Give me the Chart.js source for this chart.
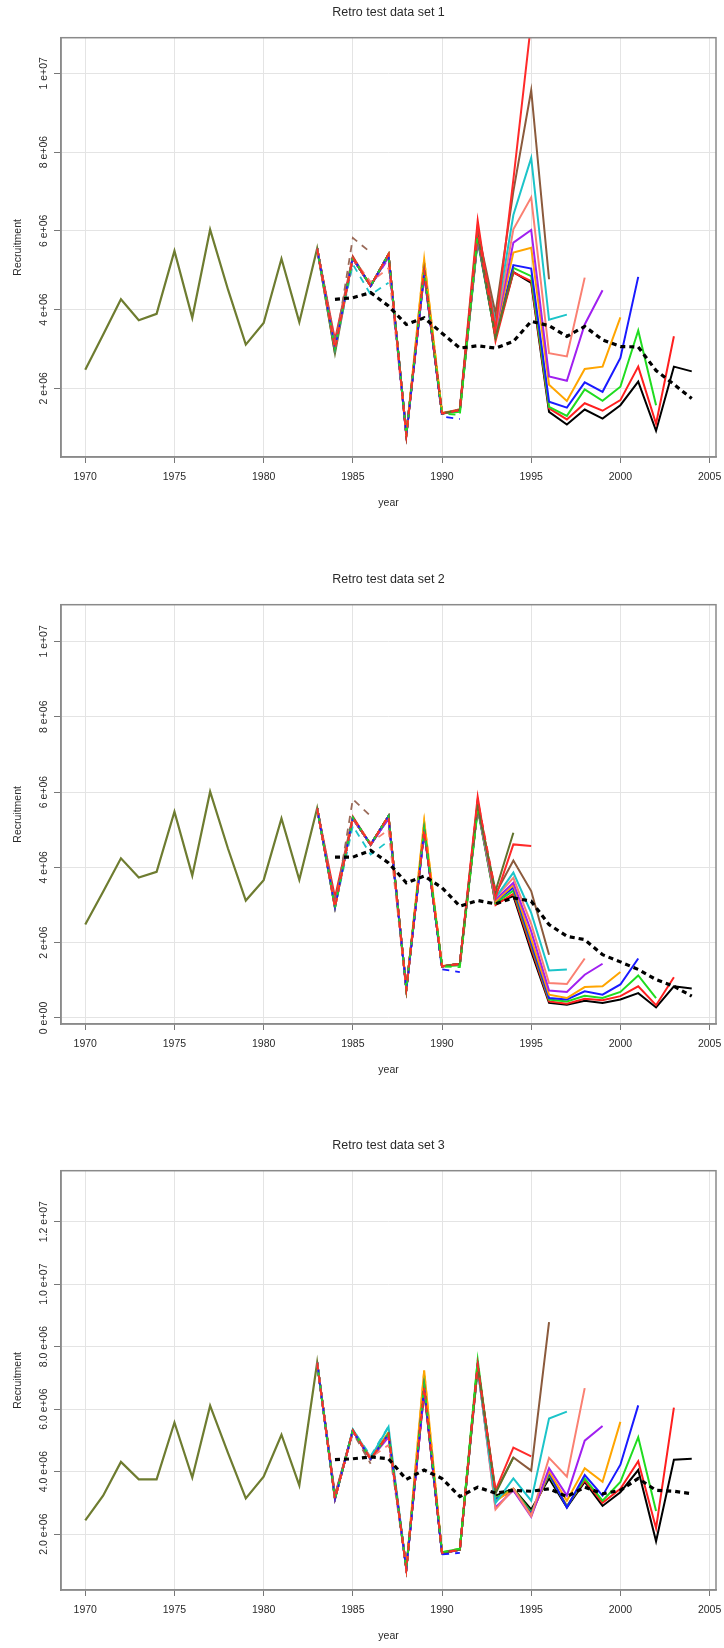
<!DOCTYPE html>
<html><head><meta charset="utf-8">
<script src="https://cdn.jsdelivr.net/npm/chart.js@4.4.1/dist/chart.umd.min.js"></script>
<style>
html,body{margin:0;padding:0;background:#fff;}
body{width:724px;height:1648px;position:relative;overflow:hidden;}
.panel{position:absolute;left:0;width:724px;}
canvas{display:block;}
</style></head><body>
<div class="panel" style="top:0;height:566px"><canvas id="c1" width="724" height="566"></canvas></div>
<div class="panel" style="top:567px;height:566px"><canvas id="c2" width="724" height="566"></canvas></div>
<div class="panel" style="top:1133px;height:515px"><canvas id="c3" width="724" height="515"></canvas></div>
<script>
// ---------- shared axis data ----------
const xTickValues = [1970, 1975, 1980, 1985, 1990, 1995, 2000, 2005];
const xTickLabels = ["1970", "1975", "1980", "1985", "1990", "1995", "2000", "2005"];
const historyStart = 1970;   // first year of the shared history line
const runStart = 1983;       // first year of every retrospective run array
const smoothStart = 1984;    // first year of the dotted line
const xLabel = "year";
const yLabel = "Recruitment";

// ---------- Panel 1 (values in millions) ----------
const p1Title = "Retro test data set 1";
const p1YTicks = [2, 4, 6, 8, 10];
const p1YLabels = ["2 e+06", "4 e+06", "6 e+06", "8 e+06", "1 e+07"];
const p1History = [2.47, 3.36, 4.26, 3.73, 3.89, 5.49, 3.79, 6.03, 4.51, 3.11, 3.66, 5.29, 3.68, 5.55, 2.89];
const p1Smooth = [4.26, 4.30, 4.43, 4.09, 3.62, 3.79, 3.40, 3.02, 3.08, 3.02, 3.19, 3.70, 3.59, 3.32, 3.57, 3.23, 3.06, 3.05, 2.45, 2.10, 1.74];
const p1Run2004 = [5.55, 3.10, 5.30, 4.60, 5.40, 0.85, 4.95, 1.36, 1.45, 5.80, 3.30, 4.95, 4.68, 1.40, 1.08, 1.46, 1.23, 1.57, 2.17, 0.92, 2.55, 2.43];
const p1Run2003 = [5.55, 3.23, 5.35, 4.60, 5.40, 0.85, 4.95, 1.36, 1.47, 6.26, 3.20, 4.94, 4.72, 1.49, 1.21, 1.62, 1.43, 1.70, 2.55, 1.10, 3.32];
const p1Run2002 = [5.55, 3.10, 5.30, 4.60, 5.40, 0.85, 5.00, 1.36, 1.40, 5.75, 3.30, 5.06, 4.85, 1.53, 1.30, 1.97, 1.68, 2.04, 3.47, 1.57];
const p1Run2001 = [5.55, 3.10, 5.30, 4.60, 5.35, 0.85, 4.90, 1.36, 1.45, 5.80, 3.35, 5.13, 5.04, 1.66, 1.51, 2.15, 1.91, 2.77, 4.83];
const p1Run2000 = [5.55, 3.10, 5.30, 4.60, 5.40, 0.82, 5.28, 1.38, 1.45, 5.85, 3.40, 5.45, 5.57, 2.09, 1.68, 2.49, 2.55, 3.80];
const p1Run1999 = [5.55, 3.10, 5.30, 4.60, 5.35, 0.80, 4.90, 1.36, 1.45, 5.85, 3.45, 5.70, 6.02, 2.30, 2.19, 3.62, 4.49];
const p1Run1998 = [5.55, 3.10, 5.30, 4.60, 5.40, 0.82, 5.00, 1.36, 1.45, 5.90, 3.50, 6.04, 6.85, 2.89, 2.81, 4.81];
const p1Run1997 = [5.55, 3.10, 5.30, 4.60, 5.40, 0.82, 5.00, 1.36, 1.45, 5.95, 3.66, 6.40, 7.85, 3.74, 3.87];
const p1Run1996 = [5.55, 3.10, 5.30, 4.60, 5.40, 0.82, 5.00, 1.36, 1.45, 6.00, 3.90, 7.00, 9.57, 4.77];
const p1Run1995 = [5.55, 3.10, 5.30, 4.60, 5.40, 0.82, 5.00, 1.36, 1.45, 6.10, 3.50, 7.30, 11.30];
const p1Run1994 = [5.55, 2.89, 5.32, 4.60, 5.40, 0.80, 5.00, 1.36, 1.45, 5.90, 3.30, 5.00];
const p1Run1993 = [5.55, 3.00, 5.32, 4.60, 5.40, 0.80, 5.00, 1.36, 1.45, 6.00, 3.30];
const p1Run1992 = [5.55, 3.00, 5.32, 4.60, 5.40, 0.80, 5.00, 1.36, 1.32, 5.90];
const p1Run1991 = [5.55, 3.00, 5.32, 4.60, 5.40, 0.80, 4.95, 1.28, 1.22];
const p1Run1990 = [5.55, 3.00, 5.32, 4.60, 5.40, 0.80, 5.28, 1.40];
const p1Run1989 = [5.55, 3.00, 5.30, 4.60, 5.30, 0.78, 4.90];
const p1Run1988 = [5.55, 3.00, 5.30, 4.70, 5.05, 0.80];
const p1Run1987 = [5.55, 3.00, 5.15, 4.38, 4.68];
const p1Run1986 = [5.55, 3.00, 5.82, 5.45];

// ---------- Panel 2 ----------
const p2Title = "Retro test data set 2";
const p2YTicks = [0, 2, 4, 6, 8, 10];
const p2YLabels = ["0 e+00", "2 e+06", "4 e+06", "6 e+06", "8 e+06", "1 e+07"];
const p2History = [2.48, 3.35, 4.24, 3.73, 3.88, 5.48, 3.78, 6.01, 4.50, 3.12, 3.66, 5.30, 3.67, 5.57, 2.93];
const p2Smooth = [4.27, 4.27, 4.45, 4.12, 3.59, 3.77, 3.46, 2.97, 3.12, 3.03, 3.19, 3.10, 2.48, 2.17, 2.08, 1.68, 1.49, 1.29, 1.02, 0.84, 0.58];
const p2Run2004 = [5.57, 3.00, 5.30, 4.60, 5.36, 0.78, 5.00, 1.37, 1.44, 5.60, 3.05, 3.24, 1.77, 0.40, 0.35, 0.46, 0.40, 0.49, 0.66, 0.28, 0.84, 0.78];
const p2Run2003 = [5.57, 3.20, 5.35, 4.60, 5.36, 0.78, 5.00, 1.37, 1.44, 5.87, 3.00, 3.30, 1.86, 0.44, 0.38, 0.51, 0.47, 0.58, 0.84, 0.34, 1.08];
const p2Run2002 = [5.57, 3.00, 5.30, 4.60, 5.36, 0.78, 5.05, 1.37, 1.40, 5.55, 3.05, 3.38, 1.95, 0.49, 0.44, 0.59, 0.53, 0.69, 1.13, 0.53];
const p2Run2001 = [5.57, 3.00, 5.30, 4.60, 5.30, 0.78, 4.95, 1.37, 1.44, 5.60, 3.10, 3.46, 2.00, 0.53, 0.49, 0.71, 0.62, 0.89, 1.58];
const p2Run2000 = [5.57, 3.00, 5.30, 4.60, 5.36, 0.78, 5.23, 1.38, 1.44, 5.60, 3.10, 3.53, 2.10, 0.62, 0.53, 0.82, 0.84, 1.22];
const p2Run1999 = [5.57, 3.00, 5.30, 4.60, 5.30, 0.75, 4.95, 1.37, 1.44, 5.60, 3.15, 3.59, 2.30, 0.73, 0.69, 1.15, 1.44];
const p2Run1998 = [5.57, 3.00, 5.30, 4.60, 5.36, 0.78, 5.00, 1.37, 1.44, 5.65, 3.20, 3.72, 2.50, 0.93, 0.90, 1.58];
const p2Run1997 = [5.57, 3.00, 5.30, 4.60, 5.36, 0.78, 5.00, 1.37, 1.44, 5.65, 3.20, 3.86, 2.79, 1.26, 1.29];
const p2Run1996 = [5.57, 3.00, 5.30, 4.60, 5.36, 0.78, 5.00, 1.37, 1.44, 5.70, 3.30, 4.18, 3.37, 1.68];
const p2Run1995 = [5.57, 3.00, 5.30, 4.60, 5.36, 0.78, 5.00, 1.37, 1.44, 5.75, 3.20, 4.61, 4.57];
const p2Run1994 = [5.57, 2.93, 5.32, 4.61, 5.36, 0.75, 5.00, 1.37, 1.44, 5.60, 3.37, 4.92];
const p2Run1993 = [5.57, 2.93, 5.32, 4.61, 5.36, 0.75, 5.00, 1.37, 1.44, 5.80, 3.35];
const p2Run1992 = [5.57, 2.93, 5.32, 4.61, 5.36, 0.75, 5.05, 1.37, 1.35, 5.50];
const p2Run1991 = [5.57, 2.93, 5.32, 4.61, 5.36, 0.75, 5.00, 1.29, 1.22];
const p2Run1990 = [5.57, 2.93, 5.32, 4.61, 5.36, 0.75, 5.23, 1.40];
const p2Run1989 = [5.57, 2.93, 5.30, 4.60, 5.30, 0.75, 4.90];
const p2Run1988 = [5.57, 2.93, 5.30, 4.65, 5.00, 0.75];
const p2Run1987 = [5.57, 2.93, 5.10, 4.34, 4.70];
const p2Run1986 = [5.57, 2.93, 5.81, 5.36];

// ---------- Panel 3 ----------
const p3Title = "Retro test data set 3";
const p3YTicks = [2, 4, 6, 8, 10, 12];
const p3YLabels = ["2.0 e+06", "4.0 e+06", "6.0 e+06", "8.0 e+06", "1.0 e+07", "1.2 e+07"];
const p3History = [2.44, 3.23, 4.31, 3.75, 3.75, 5.57, 3.81, 6.11, 4.60, 3.14, 3.84, 5.18, 3.56, 7.49, 3.12];
const p3Smooth = [4.38, 4.41, 4.47, 4.41, 3.75, 4.05, 3.78, 3.20, 3.50, 3.31, 3.40, 3.37, 3.45, 3.20, 3.50, 3.29, 3.40, 3.78, 3.40, 3.37, 3.29];
const p3Run2004 = [7.49, 3.20, 5.30, 4.40, 5.20, 0.90, 6.60, 1.40, 1.50, 7.40, 3.23, 3.45, 2.79, 3.78, 2.85, 3.67, 2.90, 3.34, 4.05, 1.77, 4.38, 4.41];
const p3Run2003 = [7.49, 3.25, 5.30, 4.40, 5.20, 0.90, 6.60, 1.40, 1.50, 7.30, 3.10, 3.40, 2.65, 3.90, 2.90, 3.72, 3.00, 3.45, 4.33, 2.19, 6.05];
const p3Run2002 = [7.49, 3.15, 5.32, 4.40, 5.25, 0.90, 6.80, 1.42, 1.53, 7.57, 3.15, 3.45, 2.70, 3.90, 2.88, 3.78, 3.07, 3.67, 5.10, 2.74];
const p3Run2001 = [7.49, 3.15, 5.30, 4.40, 5.20, 0.90, 6.70, 1.38, 1.50, 7.40, 3.10, 3.42, 2.65, 3.95, 2.85, 3.89, 3.23, 4.22, 6.12];
const p3Run2000 = [7.49, 3.15, 5.30, 4.40, 5.25, 0.90, 7.24, 1.40, 1.50, 7.40, 3.05, 3.45, 2.60, 4.00, 3.07, 4.11, 3.67, 5.59];
const p3Run1999 = [7.49, 3.15, 5.30, 4.40, 5.10, 0.87, 6.70, 1.38, 1.50, 7.35, 2.85, 3.40, 2.55, 4.11, 3.23, 4.99, 5.46];
const p3Run1998 = [7.49, 3.15, 5.30, 4.40, 5.20, 0.90, 6.80, 1.40, 1.50, 7.35, 2.79, 3.45, 2.57, 4.44, 3.84, 6.67];
const p3Run1997 = [7.49, 3.15, 5.35, 4.45, 5.43, 0.90, 6.80, 1.40, 1.50, 7.30, 3.00, 3.78, 3.07, 5.70, 5.92];
const p3Run1996 = [7.49, 3.15, 5.30, 4.40, 5.20, 0.90, 6.80, 1.40, 1.50, 7.40, 3.35, 4.45, 4.03, 8.78];
const p3Run1995 = [7.49, 3.15, 5.30, 4.40, 5.20, 0.90, 6.80, 1.40, 1.50, 7.40, 3.40, 4.77, 4.49];
const p3Run1994 = [7.49, 3.12, 5.32, 4.40, 5.20, 0.87, 6.70, 1.40, 1.50, 7.40, 3.30, 4.45];
const p3Run1993 = [7.49, 3.12, 5.32, 4.40, 5.20, 0.87, 6.70, 1.40, 1.50, 7.40, 3.30];
const p3Run1992 = [7.49, 3.12, 5.32, 4.40, 5.20, 0.87, 6.80, 1.42, 1.53, 7.57];
const p3Run1991 = [7.49, 3.12, 5.32, 4.40, 5.20, 0.87, 6.70, 1.35, 1.40];
const p3Run1990 = [7.49, 3.12, 5.32, 4.40, 5.20, 0.87, 7.24, 1.40];
const p3Run1989 = [7.49, 3.12, 5.30, 4.40, 5.15, 0.87, 6.50];
const p3Run1988 = [7.49, 3.12, 5.30, 4.45, 4.85, 0.90];
const p3Run1987 = [7.49, 3.12, 5.35, 4.50, 5.45];
const p3Run1986 = [7.49, 3.12, 5.25, 4.25];

// ---------- styles ----------
const FAMILY = "'Liberation Sans', Arial, Helvetica, sans-serif";
const TICK_FONT = {family: FAMILY, size: 10.5};
const TEXT = "#2a2a2a";
const GRID = "#e4e4e4";
const FRAME = "#8a8a8a";
const HISTORY_COLOR = "#6e7c30";
const solidStyle = [
  ["Run2004", "#000000"], ["Run2003", "#ff1f1f"], ["Run2002", "#20dc20"], ["Run2001", "#1a1aff"],
  ["Run2000", "#ffa500"], ["Run1999", "#a020f0"], ["Run1998", "#fa8072"], ["Run1997", "#1cc4c9"],
  ["Run1996", "#8b5a3c"], ["Run1995", "#ff2a2a"], ["Run1994", "#5f722c"]
];
const dashedStyle = [
  ["Run1993", "#ff2a2a"], ["Run1992", "#20dc20"], ["Run1991", "#1a1aff"],
  ["Run1990", "#ffa500"], ["Run1989", "#a020f0"], ["Run1988", "#fa8072"], ["Run1987", "#1cc4c9"],
  ["Run1986", "#9a6a58"]
];

const panels = [
  {id: "c1", title: p1Title, yTicks: p1YTicks, yLabels: p1YLabels, yMin: 0.255, yMax: 10.904, history: p1History, smooth: p1Smooth,
   runs: {Run2004: p1Run2004, Run2003: p1Run2003, Run2002: p1Run2002, Run2001: p1Run2001, Run2000: p1Run2000, Run1999: p1Run1999, Run1998: p1Run1998, Run1997: p1Run1997, Run1996: p1Run1996, Run1995: p1Run1995, Run1994: p1Run1994, Run1993: p1Run1993, Run1992: p1Run1992, Run1991: p1Run1991, Run1990: p1Run1990, Run1989: p1Run1989, Run1988: p1Run1988, Run1987: p1Run1987, Run1986: p1Run1986}},
  {id: "c2", title: p2Title, yTicks: p2YTicks, yLabels: p2YLabels, yMin: -0.16, yMax: 10.975, history: p2History, smooth: p2Smooth,
   runs: {Run2004: p2Run2004, Run2003: p2Run2003, Run2002: p2Run2002, Run2001: p2Run2001, Run2000: p2Run2000, Run1999: p2Run1999, Run1998: p2Run1998, Run1997: p2Run1997, Run1996: p2Run1996, Run1995: p2Run1995, Run1994: p2Run1994, Run1993: p2Run1993, Run1992: p2Run1992, Run1991: p2Run1991, Run1990: p2Run1990, Run1989: p2Run1989, Run1988: p2Run1988, Run1987: p2Run1987, Run1986: p2Run1986}},
  {id: "c3", title: p3Title, yTicks: p3YTicks, yLabels: p3YLabels, yMin: 0.21, yMax: 13.63, history: p3History, smooth: p3Smooth,
   runs: {Run2004: p3Run2004, Run2003: p3Run2003, Run2002: p3Run2002, Run2001: p3Run2001, Run2000: p3Run2000, Run1999: p3Run1999, Run1998: p3Run1998, Run1997: p3Run1997, Run1996: p3Run1996, Run1995: p3Run1995, Run1994: p3Run1994, Run1993: p3Run1993, Run1992: p3Run1992, Run1991: p3Run1991, Run1990: p3Run1990, Run1989: p3Run1989, Run1988: p3Run1988, Run1987: p3Run1987, Run1986: p3Run1986}}
];

// ---------- layout constants ----------
const PLOT_LEFT = 61, PLOT_RIGHT_PAD = 8, PLOT_TOP = 37.7, PLOT_BOTTOM = 457, X_AXIS_H = 55;
const Y_TICK_LEN = 7, X_TICK_LEN = 6, Y_LABEL_CENTER = 44;

function pts(start, vals) { return vals.map((v, i) => ({x: start + i, y: v})); }
function widestLabel(labels) {
  const ctx = document.createElement("canvas").getContext("2d");
  ctx.font = TICK_FONT.size + "px " + FAMILY;
  return Math.max(...labels.map(l => ctx.measureText(l).width));
}

const framePlugin = {
  id: "frame",
  afterDraw(chart) {
    const {ctx, chartArea: a} = chart;
    ctx.save();
    ctx.strokeStyle = FRAME; ctx.lineWidth = 1.5;
    ctx.strokeRect(a.left, a.top, a.right - a.left, a.bottom - a.top);
    ctx.restore();
  }
};

panels.forEach(p => {
  const canvas = document.getElementById(p.id);
  const H = canvas.height;
  const datasets = [];
  datasets.push({data: pts(smoothStart, p.smooth), borderColor: "#000", borderWidth: 3.2, borderDash: [5, 4], borderCapStyle: "butt", order: 0});
  dashedStyle.forEach(([key, col], i) => {
    datasets.push({data: pts(runStart, p.runs[key]), borderColor: col, borderWidth: 1.8, borderDash: [7, 6], borderDashOffset: i * 3, order: 1 + i});
  });
  solidStyle.forEach(([key, col], i) => {
    datasets.push({data: pts(runStart, p.runs[key]), borderColor: col, borderWidth: 2, order: 30 - i});
  });
  datasets.push({data: pts(historyStart, p.history), borderColor: HISTORY_COLOR, borderWidth: 2.2, order: 50});

  const yPad = PLOT_LEFT - Y_TICK_LEN - widestLabel(p.yLabels) / 2 - Y_LABEL_CENTER;

  new Chart(canvas, {
    type: "line",
    data: {datasets},
    options: {
      responsive: false, animation: false, devicePixelRatio: 1, events: [],
      elements: {point: {radius: 0}, line: {tension: 0, fill: false, borderJoinStyle: "miter"}},
      layout: {padding: {top: 0, left: 0, right: PLOT_RIGHT_PAD, bottom: H - PLOT_BOTTOM - X_AXIS_H}},
      plugins: {
        legend: {display: false}, tooltip: {enabled: false},
        title: {display: true, text: p.title, fullSize: false, color: TEXT,
          font: {family: FAMILY, size: 12.5, weight: "normal"},
          padding: {top: 5.5, bottom: PLOT_TOP - 5.5 - 15}}
      },
      scales: {
        x: {
          type: "linear", min: 1968.64, max: 2005.36,
          afterBuildTicks: s => { s.ticks = xTickValues.map(v => ({value: v})); },
          afterFit: s => { s.height = X_AXIS_H; s.paddingLeft = 0; s.paddingRight = 0; },
          ticks: {font: TICK_FONT, color: TEXT, padding: 8, maxRotation: 0, autoSkip: false,
            callback: (v, i) => xTickLabels[i]},
          grid: {color: GRID, lineWidth: 1, tickColor: "#777", tickLength: X_TICK_LEN},
          border: {display: true, color: FRAME, width: 1.5},
          title: {display: true, text: xLabel, color: TEXT, font: {family: FAMILY, size: 10.5}, padding: {top: 0, bottom: 2.7}}
        },
        y: {
          type: "linear", min: p.yMin, max: p.yMax,
          afterBuildTicks: s => { s.ticks = p.yTicks.map(v => ({value: v})); },
          afterFit: s => { s.width = PLOT_LEFT; s.paddingTop = 0; s.paddingBottom = 0; },
          ticks: {font: TICK_FONT, color: TEXT, minRotation: 90, maxRotation: 90, crossAlign: "center",
            padding: yPad, autoSkip: false, callback: (v, i) => p.yLabels[i]},
          grid: {color: GRID, lineWidth: 1, tickColor: "#777", tickLength: Y_TICK_LEN},
          border: {display: true, color: FRAME, width: 1.5},
          title: {display: true, text: yLabel, color: TEXT, font: {family: FAMILY, size: 10.5}, padding: {top: 12, bottom: 0}}
        }
      }
    },
    plugins: [framePlugin]
  });
});
</script>
</body></html>
